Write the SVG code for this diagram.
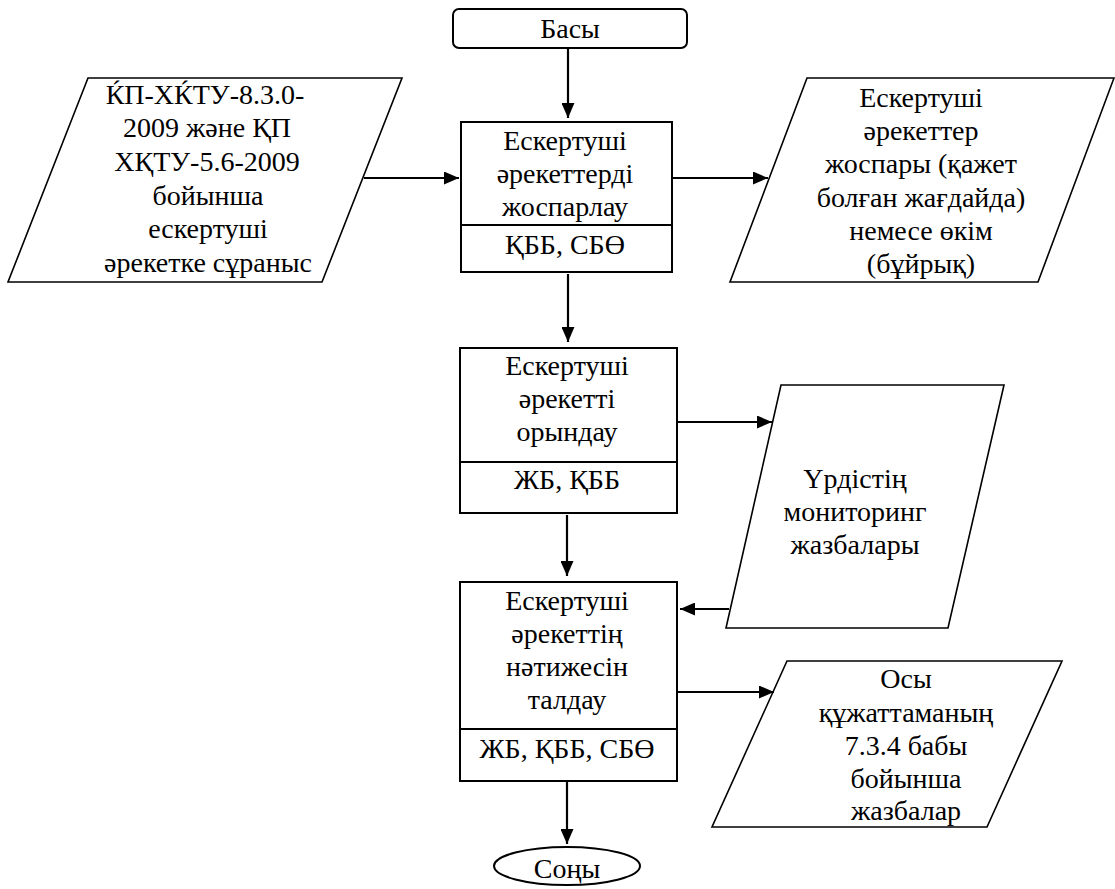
<svg xmlns="http://www.w3.org/2000/svg" width="1115" height="889" viewBox="0 0 1115 889">
<style>
  .box { fill: #fff; stroke: #000; stroke-width: 2; }
  .para { fill: #fff; stroke: #000; stroke-width: 1.6; }
  .div { stroke: #000; stroke-width: 2; }
  .t { font-family: "Times New Roman", Times, Tinos, "Liberation Serif", "Noto Serif", FreeSerif, "DejaVu Serif", serif; font-size: 28px; fill: #000; text-anchor: middle; }
  .arr { stroke: #000; stroke-width: 2.2; fill: none; marker-end: url(#ah); }
</style>
<defs>
  <marker id="ah" markerWidth="15" markerHeight="13" refX="15" refY="6.5" orient="auto" markerUnits="userSpaceOnUse">
    <path d="M0,0 L15,6.5 L0,13 Z" fill="#000"/>
  </marker>
</defs>

<g id="start">
  <rect class="box" x="453" y="9" width="234" height="39" rx="6"/>
  <text class="t" x="570" y="38">Басы</text>
</g>

<g id="request">
  <polygon class="para" points="88,78 402,78 322,282 8,282"/>
  <text class="t" x="205" y="104">ЌП-ХЌТУ-8.3.0-</text>
  <text class="t" x="207" y="137">2009 және ҚП</text>
  <text class="t" x="207" y="171">ХҚТУ-5.6-2009</text>
  <text class="t" x="208" y="205">бойынша</text>
  <text class="t" x="208" y="238">ескертуші</text>
  <text class="t" x="208" y="272">әрекетке сұраныс</text>
</g>

<g id="plan">
  <rect class="box" x="461" y="122" width="211" height="150"/>
  <line class="div" x1="461" y1="225" x2="672" y2="225"/>
  <text class="t" x="565" y="150">Ескертуші</text>
  <text class="t" x="565" y="183">әрекеттерді</text>
  <text class="t" x="565" y="216">жоспарлау</text>
  <text class="t" x="565" y="254">ҚББ, СБӨ</text>
</g>

<g id="planDoc">
  <polygon class="para" points="807,78 1114,78 1038,282 730,282"/>
  <text class="t" x="921" y="107">Ескертуші</text>
  <text class="t" x="921" y="140">әрекеттер</text>
  <text class="t" x="921" y="173">жоспары (қажет</text>
  <text class="t" x="921" y="207">болған жағдайда)</text>
  <text class="t" x="921" y="240">немесе өкім</text>
  <text class="t" x="921" y="273">(бұйрық)</text>
</g>

<g id="execute">
  <rect class="box" x="460" y="348" width="217" height="165"/>
  <line class="div" x1="460" y1="462" x2="677" y2="462"/>
  <text class="t" x="567" y="375">Ескертуші</text>
  <text class="t" x="567" y="408">әрекетті</text>
  <text class="t" x="567" y="441">орындау</text>
  <text class="t" x="567" y="489">ЖБ, ҚББ</text>
</g>

<g id="monitoring">
  <polygon class="para" points="781,385 1004,385 948,628 726,628"/>
  <text class="t" x="855" y="488">Үрдістің</text>
  <text class="t" x="855" y="521">мониторинг</text>
  <text class="t" x="855" y="554">жазбалары</text>
</g>

<g id="analysis">
  <rect class="box" x="460" y="582" width="217" height="199"/>
  <line class="div" x1="460" y1="729" x2="677" y2="729"/>
  <text class="t" x="567" y="610">Ескертуші</text>
  <text class="t" x="567" y="643">әрекеттің</text>
  <text class="t" x="567" y="676">нәтижесін</text>
  <text class="t" x="567" y="709">талдау</text>
  <text class="t" x="567" y="758">ЖБ, ҚББ, СБӨ</text>
</g>

<g id="records">
  <polygon class="para" points="787,661 1062,661 987,827 712,827"/>
  <text class="t" x="906" y="688">Осы</text>
  <text class="t" x="906" y="722">құжаттаманың</text>
  <text class="t" x="906" y="755">7.3.4 бабы</text>
  <text class="t" x="906" y="788">бойынша</text>
  <text class="t" x="906" y="820">жазбалар</text>
</g>

<g id="end">
  <ellipse class="box" cx="567" cy="866" rx="73" ry="19"/>
  <text class="t" x="567" y="878">Соңы</text>
</g>

<g id="connectors">
  <line class="arr" x1="568" y1="48" x2="568" y2="118"/>
  <line class="arr" x1="364" y1="178" x2="459" y2="178"/>
  <line class="arr" x1="672" y1="178" x2="768" y2="178"/>
  <line class="arr" x1="568" y1="274" x2="568" y2="342"/>
  <line class="arr" x1="677" y1="422" x2="772" y2="422"/>
  <line class="arr" x1="567" y1="515" x2="567" y2="576"/>
  <line class="arr" x1="729" y1="609" x2="680" y2="609"/>
  <line class="arr" x1="677" y1="692" x2="774" y2="692"/>
  <line class="arr" x1="567" y1="782" x2="567" y2="844"/>
</g>
</svg>
